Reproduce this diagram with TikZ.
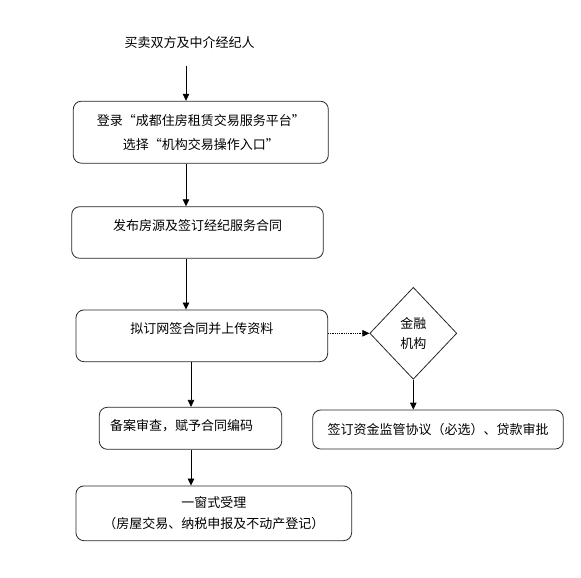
\documentclass[tikz,border=0pt]{standalone}
\usepackage{fontspec}
\setmainfont{Noto Sans CJK SC}
\usepackage{tikz}
\usetikzlibrary{shapes.geometric, arrows.meta, positioning}

\begin{document}
\begin{tikzpicture}[
    x=1pt, y=-1pt,
    font=\fontsize{13}{20}\selectfont,
    caja/.style={draw=black!85, rounded corners=8pt, line width=0.8pt,
                 align=center},
    rombo/.style={draw=black!85, diamond, line width=0.8pt, inner sep=0pt,
                  minimum width=87pt, minimum height=92pt, align=center},
    flecha/.style={-{Triangle[length=7pt, width=6.5pt]}, line width=0.8pt},
]
\useasboundingbox (0,0) rectangle (581,578);

%% Pasos: columna izquierda, Banco a la derecha
\node at (189.7, 43) (src) {买卖双方及中介经纪人};
\node[caja, minimum width=255pt, minimum height=62pt] at (200.8, 132.2) (login)
    {登录“成都住房租赁交易服务平台”\\[4pt]选择“机构交易操作入口”};
\node[caja, minimum width=251.6pt, minimum height=51.6pt,
      text height=10pt, text depth=15pt] at (197.5, 232.5) (publish)
    {发布房源及签订经纪服务合同};
\node[caja, minimum width=251.7pt, minimum height=51.7pt,
      text height=10pt, text depth=15pt] at (201.8, 335.8) (draft)
    {拟订网签合同并上传资料};
\node[rombo] at (413.3, 333.3) (bank) {金融\\机构};
\node[caja, minimum height=42pt, text width=161pt, inner xsep=10.7pt,
      align=left, text height=10pt, text depth=6pt] at (190.5, 428.3) (file)
    {备案审查，赋予合同编码};
\node[caja, minimum width=250.6pt, minimum height=39pt] at (438, 429.5) (loan)
    {签订资金监管协议（必选）、贷款审批};
\node[caja, minimum width=275.7pt, minimum height=54.7pt] at (213.8, 513.3) (accept)
    {一窗式受理\\[1pt]（房屋交易、纳税申报及不动产登记）};

%% Ejes de las flechas verticales
\coordinate (ejeA) at (186, 0);
\coordinate (ejeB) at (191, 0);

%% Flechas
\draw[flecha, shorten <=13pt] (src.south -| ejeA) -- (login.north -| ejeA);
\draw[flecha] (login.south -| ejeA) -- (publish.north -| ejeA);
\draw[flecha] (publish.south -| ejeA) -- (draft.north -| ejeA);
\draw[flecha] (draft.south -| ejeB) -- (file.north -| ejeB);
\draw[flecha] (file.south -| ejeB) -- (accept.north -| ejeB);
\draw[flecha, densely dotted, line width=0.7pt] (draft.east |- bank.west) -- (bank.west);
\draw[flecha] (bank.south) -- (bank.south |- loan.north);
\end{tikzpicture}
\end{document}
